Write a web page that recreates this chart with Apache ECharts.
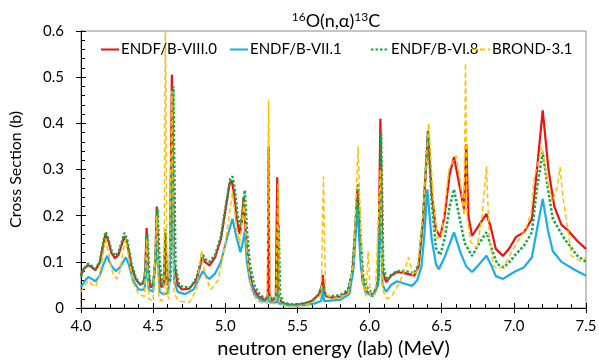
<!DOCTYPE html>
<html>
<head>
<meta charset="utf-8">
<script src="https://cdn.jsdelivr.net/npm/echarts@6/dist/echarts.min.js"></script>
<style>
html,body{margin:0;padding:0;background:#fff;}
#chart{width:599px;height:361px;}
</style>
</head>
<body>
<div id="chart"></div>
<script>
// ---- data (energy MeV, cross section b) ----
const seriesNames = ['ENDF/B-VIII.0', 'ENDF/B-VII.1', 'ENDF/B-VI.8', 'BROND-3.1'];
const xTickLabels = ['4.0','4.5','5.0','5.5','6.0','6.5','7.0','7.5'];
const yTickLabels = ['0','0.1','0.2','0.3','0.4','0.5','0.6'];

const endf80 = [
[4.00,0.072],[4.02,0.085],[4.05,0.093],[4.08,0.087],[4.10,0.082],[4.13,0.098],[4.15,0.13],[4.17,0.16],
[4.19,0.145],[4.21,0.12],[4.235,0.108],[4.26,0.115],[4.28,0.135],[4.30,0.155],[4.32,0.14],[4.35,0.09],
[4.38,0.062],[4.41,0.05],[4.435,0.055],[4.445,0.08],[4.455,0.173],[4.465,0.08],[4.48,0.045],[4.50,0.048],
[4.515,0.1],[4.525,0.22],[4.535,0.1],[4.555,0.045],[4.575,0.05],[4.585,0.16],[4.595,0.05],[4.615,0.07],
[4.63,0.505],[4.645,0.1],[4.67,0.05],[4.70,0.04],[4.75,0.042],[4.80,0.06],[4.825,0.09],[4.84,0.11],
[4.86,0.1],[4.89,0.092],[4.93,0.11],[4.97,0.15],[5.00,0.21],[5.03,0.27],[5.045,0.275],[5.06,0.25],
[5.08,0.19],[5.10,0.16],[5.115,0.19],[5.127,0.24],[5.14,0.17],[5.16,0.09],[5.19,0.045],[5.23,0.025],
[5.28,0.017],[5.295,0.03],[5.30,0.35],[5.305,0.03],[5.32,0.017],[5.35,0.02],[5.36,0.283],[5.37,0.02],
[5.40,0.01],[5.45,0.007],[5.50,0.007],[5.55,0.01],[5.60,0.015],[5.65,0.03],[5.67,0.05],[5.675,0.072],
[5.685,0.04],[5.70,0.025],[5.75,0.022],[5.80,0.025],[5.85,0.035],[5.88,0.07],[5.90,0.16],[5.915,0.257],
[5.93,0.16],[5.95,0.06],[5.97,0.04],[6.00,0.03],[6.03,0.03],[6.06,0.06],[6.075,0.41],[6.09,0.08],
[6.115,0.056],[6.15,0.07],[6.19,0.078],[6.25,0.075],[6.31,0.07],[6.34,0.09],[6.37,0.19],[6.405,0.383],
[6.43,0.25],[6.46,0.17],[6.49,0.154],[6.52,0.2],[6.555,0.29],[6.585,0.327],[6.62,0.27],[6.655,0.214],
[6.67,0.355],[6.685,0.2],[6.71,0.156],[6.76,0.18],[6.81,0.204],[6.84,0.175],[6.875,0.128],[6.925,0.113],
[6.97,0.13],[7.015,0.154],[7.07,0.164],[7.125,0.193],[7.16,0.3],[7.20,0.428],[7.24,0.3],[7.28,0.22],
[7.33,0.18],[7.37,0.17],[7.44,0.145],[7.50,0.128]
];

const endf71 = [
[4.00,0.045],[4.03,0.06],[4.05,0.067],[4.08,0.062],[4.10,0.058],[4.13,0.07],[4.15,0.09],[4.18,0.113],
[4.21,0.092],[4.24,0.08],[4.27,0.088],[4.31,0.11],[4.33,0.095],[4.36,0.06],[4.40,0.04],[4.44,0.04],
[4.455,0.1],[4.47,0.04],[4.50,0.035],[4.525,0.15],[4.545,0.035],[4.57,0.03],[4.60,0.032],[4.615,0.06],
[4.63,0.33],[4.645,0.06],[4.67,0.035],[4.72,0.03],[4.78,0.04],[4.82,0.065],[4.845,0.08],[4.87,0.068],
[4.89,0.063],[4.93,0.075],[4.97,0.1],[5.01,0.15],[5.05,0.193],[5.08,0.15],[5.105,0.121],[5.12,0.14],
[5.135,0.165],[5.15,0.1],[5.17,0.06],[5.20,0.03],[5.25,0.015],[5.295,0.015],[5.30,0.026],[5.31,0.012],
[5.355,0.012],[5.36,0.04],[5.37,0.01],[5.45,0.005],[5.55,0.006],[5.62,0.01],[5.665,0.015],[5.675,0.04],
[5.685,0.015],[5.80,0.018],[5.86,0.03],[5.89,0.09],[5.915,0.22],[5.94,0.09],[5.97,0.035],[6.02,0.025],
[6.06,0.05],[6.075,0.25],[6.09,0.05],[6.115,0.035],[6.15,0.05],[6.19,0.058],[6.25,0.052],[6.295,0.048],
[6.33,0.06],[6.36,0.09],[6.38,0.16],[6.40,0.257],[6.43,0.15],[6.46,0.095],[6.48,0.084],[6.52,0.11],
[6.585,0.164],[6.63,0.12],[6.67,0.09],[6.71,0.078],[6.76,0.095],[6.81,0.113],[6.84,0.095],[6.875,0.069],
[6.925,0.063],[6.97,0.072],[7.015,0.08],[7.07,0.088],[7.125,0.11],[7.16,0.17],[7.20,0.236],[7.235,0.17],
[7.27,0.123],[7.33,0.10],[7.415,0.084],[7.50,0.07]
];

const endf68 = [
[4.00,0.068],[4.02,0.085],[4.05,0.096],[4.08,0.09],[4.10,0.085],[4.13,0.1],[4.15,0.135],[4.17,0.165],
[4.19,0.15],[4.21,0.125],[4.235,0.113],[4.26,0.12],[4.28,0.14],[4.30,0.163],[4.32,0.148],[4.35,0.095],
[4.38,0.065],[4.41,0.052],[4.44,0.06],[4.46,0.16],[4.475,0.06],[4.50,0.05],[4.515,0.1],[4.53,0.215],
[4.545,0.1],[4.565,0.048],[4.575,0.07],[4.585,0.17],[4.595,0.06],[4.62,0.06],[4.64,0.48],[4.655,0.09],
[4.68,0.05],[4.71,0.045],[4.76,0.045],[4.80,0.065],[4.825,0.095],[4.845,0.115],[4.865,0.105],[4.89,0.1],
[4.93,0.115],[4.97,0.155],[5.00,0.215],[5.035,0.28],[5.05,0.285],[5.065,0.26],[5.085,0.2],[5.105,0.175],
[5.12,0.21],[5.135,0.255],[5.15,0.17],[5.17,0.095],[5.20,0.05],[5.24,0.028],[5.28,0.02],[5.30,0.025],
[5.33,0.02],[5.36,0.03],[5.37,0.18],[5.38,0.03],[5.40,0.012],[5.45,0.008],[5.50,0.008],[5.55,0.01],
[5.60,0.015],[5.65,0.03],[5.675,0.05],[5.69,0.03],[5.72,0.025],[5.80,0.028],[5.85,0.04],[5.88,0.08],
[5.90,0.17],[5.92,0.27],[5.935,0.17],[5.955,0.07],[5.98,0.045],[6.01,0.035],[6.04,0.035],[6.065,0.07],
[6.08,0.38],[6.095,0.09],[6.12,0.06],[6.15,0.072],[6.19,0.08],[6.25,0.08],[6.31,0.075],[6.34,0.095],
[6.37,0.19],[6.405,0.38],[6.43,0.23],[6.46,0.13],[6.49,0.115],[6.52,0.15],[6.555,0.22],[6.585,0.257],
[6.62,0.2],[6.66,0.14],[6.71,0.113],[6.76,0.14],[6.81,0.164],[6.85,0.125],[6.885,0.095],[6.93,0.088],
[6.97,0.1],[7.015,0.117],[7.07,0.135],[7.125,0.164],[7.16,0.26],[7.20,0.337],[7.235,0.26],[7.27,0.193],
[7.35,0.15],[7.44,0.113],[7.50,0.10]
];

const brond31 = [
[4.00,0.035],[4.03,0.05],[4.05,0.06],[4.08,0.05],[4.10,0.046],[4.13,0.07],[4.15,0.11],[4.17,0.15],
[4.19,0.12],[4.22,0.075],[4.25,0.063],[4.27,0.08],[4.29,0.12],[4.31,0.15],[4.33,0.11],[4.36,0.055],
[4.40,0.03],[4.44,0.025],[4.455,0.15],[4.47,0.02],[4.50,0.015],[4.525,0.2],[4.54,0.02],[4.56,0.015],
[4.575,0.03],[4.585,0.65],[4.595,0.03],[4.61,0.02],[4.63,0.47],[4.645,0.03],[4.68,0.015],[4.75,0.012],
[4.80,0.04],[4.835,0.125],[4.86,0.07],[4.90,0.04],[4.95,0.06],[5.00,0.14],[5.05,0.25],[5.08,0.17],
[5.10,0.14],[5.13,0.23],[5.15,0.12],[5.18,0.04],[5.22,0.015],[5.29,0.01],[5.30,0.45],[5.31,0.01],
[5.35,0.01],[5.365,0.27],[5.375,0.01],[5.42,0.004],[5.50,0.004],[5.60,0.01],[5.665,0.03],[5.68,0.285],
[5.695,0.03],[5.75,0.02],[5.85,0.03],[5.89,0.1],[5.92,0.35],[5.95,0.06],[5.975,0.025],[5.99,0.123],
[6.005,0.025],[6.04,0.03],[6.075,0.3],[6.09,0.04],[6.12,0.02],[6.15,0.025],[6.20,0.05],[6.24,0.08],
[6.27,0.11],[6.30,0.07],[6.33,0.08],[6.37,0.2],[6.41,0.40],[6.44,0.24],[6.47,0.15],[6.50,0.16],
[6.55,0.3],[6.60,0.33],[6.63,0.27],[6.655,0.2],[6.665,0.53],[6.675,0.2],[6.70,0.143],[6.745,0.13],
[6.78,0.2],[6.81,0.307],[6.83,0.15],[6.86,0.09],[6.90,0.085],[6.95,0.1],[7.00,0.13],[7.08,0.17],
[7.12,0.207],[7.14,0.28],[7.195,0.35],[7.23,0.28],[7.265,0.23],[7.30,0.26],[7.32,0.305],[7.34,0.24],
[7.37,0.178],[7.40,0.113],[7.47,0.10],[7.50,0.11]
];

const FONT = 'Lato';
const chart = echarts.init(document.getElementById('chart'), null, {renderer:'canvas'});

const grid = {left:81, right:13, top:31, bottom:53, show:true, borderColor:'#8c8c8c', borderWidth:1,
  backgroundColor:'transparent', containLabel:false, outerBoundsMode:'none'};

const xBase = {type:'value', min:4, max:7.5, interval:0.5, position:'bottom'};
const yBase = {type:'value', min:0, max:0.6, interval:0.1, position:'left'};

const option = {
  animation:false,
  backgroundColor:'#fff',
  title:{
    text:'{s|16}O(n,α){s|13}C',
    left:331, top:6, textAlign:'center',
    textStyle:{fontFamily:FONT, fontSize:18, fontWeight:'normal', color:'#000', lineHeight:21,
      rich:{s:{fontFamily:FONT, fontSize:12, verticalAlign:'top', color:'#000', lineHeight:13}}}
  },
  grid:grid,
  legend: seriesNames.map((n,i)=>({
    data:[n], top:42, left:[100,229,370,471][i], padding:0, itemWidth:18, itemHeight:14, itemGap:0,
    itemStyle:{color:'rgba(0,0,0,0)', borderColor:'rgba(0,0,0,0)', borderWidth:0},
    textStyle:{fontFamily:FONT, fontSize:15, color:'#000', padding:[0,0,0,-3]}
  })),
  xAxis:[
    Object.assign({}, xBase, {
      name:'neutron energy (lab) (MeV)', nameLocation:'middle', nameGap:25,
      nameTextStyle:{fontFamily:FONT, fontSize:20, color:'#000'},
      axisLine:{show:true, lineStyle:{color:'#000', width:1}},
      axisTick:{show:true, inside:false, length:5, lineStyle:{color:'#000'}},
      axisLabel:{fontFamily:FONT, fontSize:15, color:'#000', margin:11,
        formatter:(v)=>xTickLabels[Math.round((v-4)/0.5)] || ''},
      splitLine:{show:false}
    }),
    Object.assign({}, xBase, {
      axisLine:{show:false}, axisLabel:{show:false}, splitLine:{show:false},
      axisTick:{show:true, inside:true, length:5, lineStyle:{color:'#000'}},
      minorTick:{show:true, splitNumber:5, length:4, lineStyle:{color:'#000'}}
    })
  ],
  yAxis:[
    Object.assign({}, yBase, {
      name:'Cross Section (b)', nameLocation:'middle', nameGap:57,
      nameTextStyle:{fontFamily:FONT, fontSize:16, color:'#000'},
      axisLine:{show:true, lineStyle:{color:'#000', width:1}},
      axisTick:{show:true, inside:false, length:5, lineStyle:{color:'#000'}},
      axisLabel:{fontFamily:FONT, fontSize:15, color:'#000', margin:17,
        formatter:(v)=>yTickLabels[Math.round(v/0.1)] || ''},
      splitLine:{show:false}
    }),
    Object.assign({}, yBase, {
      axisLine:{show:false}, axisLabel:{show:false}, splitLine:{show:false},
      axisTick:{show:true, inside:true, length:5, lineStyle:{color:'#000'}},
      minorTick:{show:true, splitNumber:5, length:4, lineStyle:{color:'#000'}}
    })
  ],
  series:[
    {name:seriesNames[0], type:'line', data:endf80, showSymbol:false, symbol:'none', clip:true,
      lineStyle:{color:'#ee1111', width:2.2}, itemStyle:{color:'#ee1111'}},
    {name:seriesNames[1], type:'line', data:endf71, showSymbol:false, symbol:'none', clip:true,
      lineStyle:{color:'#18aee6', width:2.2}, itemStyle:{color:'#18aee6'}},
    {name:seriesNames[2], type:'line', data:endf68, showSymbol:false, symbol:'none', clip:true,
      lineStyle:{color:'#12a84a', width:2.5, type:[2.5,2]}, itemStyle:{color:'#12a84a'}},
    {name:seriesNames[3], type:'line', data:brond31, showSymbol:false, symbol:'none', clip:true,
      lineStyle:{color:'#ffc000', width:1.5, type:[5,3]}, itemStyle:{color:'#ffc000'}}
  ]
};
chart.setOption(option);
</script>
</body>
</html>
